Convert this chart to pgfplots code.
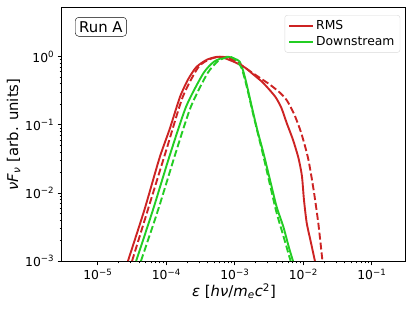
\documentclass[border=0pt]{standalone}
\usepackage{pgfplots}
\pgfplotsset{compat=1.18}
\usepackage{fontspec}
\setmainfont{DejaVu Sans}
\definecolor{cred}{RGB}{205,35,35}
\definecolor{cgreen}{RGB}{35,205,35}
\begin{document}
\begin{tikzpicture}
\begin{axis}[
  scale only axis, width=344bp, height=253bp,
  xmode=log, ymode=log,
  xmin=3e-6, xmax=0.316, ymin=1e-3, ymax=5.2,
  tick align=outside, xtick pos=left, ytick pos=left,
  major tick length=4.3pt, minor tick length=2.5pt,
  every tick/.style={black, line width=0.8pt},
  axis line style={line width=1pt},
  xtick={1e-5,1e-4,1e-3,1e-2,1e-1},
  xticklabels={10\textsuperscript{−5},10\textsuperscript{−4},10\textsuperscript{−3},10\textsuperscript{−2},10\textsuperscript{−1}},
  ytick={1e-3,1e-2,1e-1,1},
  yticklabels={10\textsuperscript{−3},10\textsuperscript{−2},10\textsuperscript{−1},10\textsuperscript{0}},
  tick label style={font=\fontsize{12.4}{14}\selectfont},
  xlabel={\textit{ε} [\textit{hν}/\textit{m}\textsubscript{\textit{e}}\textit{c}\textsuperscript{2}]},
  ylabel={\textit{νF}\textsubscript{\textit{ν}} [arb. units]},
  label style={font=\fontsize{14.9}{17}\selectfont},
  xlabel style={yshift=3pt},
  ylabel style={yshift=-2pt},
  legend style={at={(0.983,0.972)}, anchor=north east, draw=black!15, rounded corners=2.5pt, font=\fontsize{12.4}{14}\selectfont, row sep=1pt, inner sep=3.5pt},
  legend cell align=left,
  legend image code/.code={\draw[#1, solid] (0cm,0cm) -- (24bp,0cm);},
  clip=true,
]
\addplot[cred, line width=1.9pt, smooth, tension=0.4] coordinates {
(2.754e-5,1e-3) (4.786e-5,5.623e-3) (7.943e-5,3.236e-2) (1.122e-4,8.71e-2) (1.585e-4,0.257)
(2.089e-4,0.468) (2.754e-4,0.708) (3.981e-4,0.912) (6.026e-4,1) (1e-3,0.832) (1.413e-3,0.692)
(1.862e-3,0.550) (2.512e-3,0.427) (3.236e-3,0.324) (3.981e-3,0.251) (4.786e-3,0.178)
(5.754e-3,0.105) (7.079e-3,0.0603) (8.511e-3,0.0324) (9.550e-3,0.0178) (1.023e-2,7.943e-3)
(1.122e-2,3.631e-3) (1.288e-2,1.905e-3) (1.479e-2,1e-3)};
\addlegendentry{RMS}
\addplot[cgreen, line width=1.9pt, smooth, tension=0.4] coordinates {
(3.631e-5,1e-3) (6.383e-5,5.623e-3) (1.122e-4,0.0355) (1.950e-4,0.186) (3.467e-4,0.569)
(5.012e-4,0.851) (7.586e-4,1) (1e-3,0.933) (1.175e-3,0.851) (1.318e-3,0.631) (1.479e-3,0.407)
(1.862e-3,0.148) (2.188e-3,0.0759) (2.600e-3,0.0398) (3.162e-3,0.0178) (4.074e-3,6.310e-3)
(5.129e-3,3.162e-3) (6.166e-3,1.585e-3) (7.079e-3,1e-3)};
\addlegendentry{Downstream}
\addplot[cred, line width=1.9pt, dash pattern=on 7pt off 3pt, smooth, tension=0.4, forget plot] coordinates {
(3.162e-5,1e-3) (5.370e-5,5.623e-3) (1e-4,0.0427) (1.738e-4,0.257) (2.951e-4,0.708)
(4.467e-4,0.933) (6.607e-4,1) (1e-3,0.871) (1.862e-3,0.569) (3.162e-3,0.398) (4.467e-3,0.302)
(5.754e-3,0.229) (7.413e-3,0.141) (9.333e-3,0.0759) (1.175e-2,0.0324) (1.413e-2,0.0112)
(1.660e-2,3.548e-3) (1.905e-2,1e-3)};
\addplot[cgreen, line width=1.9pt, dash pattern=on 7pt off 3pt, smooth, tension=0.4, forget plot] coordinates {
(4.266e-5,1e-3) (7.586e-5,5.623e-3) (1.413e-4,0.0427) (2.291e-4,0.186) (3.981e-4,0.569)
(5.754e-4,0.871) (8.318e-4,1) (1.047e-3,0.891) (1.259e-3,0.676) (1.479e-3,0.380)
(1.862e-3,0.141) (2.600e-3,0.0355) (3.981e-3,5.623e-3) (5.012e-3,2.512e-3) (6.531e-3,1e-3)};
\node[draw=black, rounded corners=3.5pt, anchor=north west, inner sep=4pt, font=\fontsize{14.9}{17}\selectfont, fill=white] at (rel axis cs:0.038,0.964) {Run A};
\end{axis}
\pgfresetboundingbox
\path (-62bp,-51bp) rectangle (353bp,261bp);
\end{tikzpicture}
\end{document}
